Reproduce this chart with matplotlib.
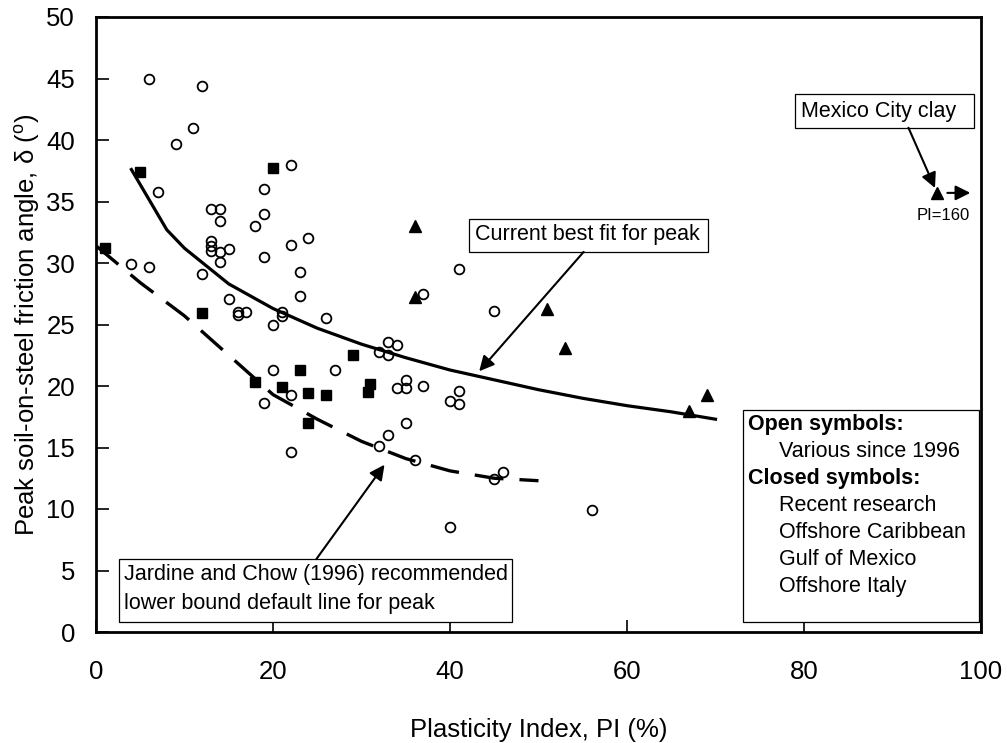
import matplotlib
matplotlib.use("Agg")
import matplotlib.pyplot as plt
from matplotlib.patches import Rectangle

plt.rcParams["font.family"] = ["Liberation Sans", "DejaVu Sans"]
plt.rcParams["mathtext.fontset"] = "custom"
plt.rcParams["mathtext.rm"] = "Liberation Sans"

# ---- data: PI (%) vs peak soil-on-steel friction angle (deg) ----
# open symbols: various since 1996
pi_open = [6, 12, 11, 9, 22, 7, 19, 13, 14, 14, 19, 18, 24, 22, 13, 13, 13, 14, 15,
           14, 19, 23, 4, 6, 12, 15, 16, 16, 17, 23, 21, 21, 20, 26, 20, 27, 22, 19,
           22, 37, 45, 33, 34, 32, 33, 35, 34, 35, 37, 41, 40, 41, 35, 33, 32, 36,
           46, 45, 41, 40, 56]
delta_open = [45.0, 44.4, 41.0, 39.7, 38.0, 35.8, 36.0, 34.4, 34.4, 33.4, 34.0, 33.0,
              32.0, 31.5, 31.8, 31.4, 31.0, 30.9, 31.1, 30.1, 30.5, 29.3, 29.9, 29.7,
              29.1, 27.1, 26.0, 25.8, 26.0, 27.3, 26.0, 25.7, 25.0, 25.5, 21.3, 21.3,
              19.3, 18.6, 14.6, 27.5, 26.1, 23.6, 23.3, 22.8, 22.5, 20.5, 19.8, 19.8,
              20.0, 19.6, 18.8, 18.5, 17.0, 16.0, 15.1, 14.0, 13.0, 12.4, 29.5, 8.5,
              9.9]

# closed squares: recent research
pi_sq = [1, 5, 20, 12, 18, 21, 23, 24, 26, 24, 29, 31, 30.7]
delta_sq = [31.2, 37.4, 37.7, 25.9, 20.3, 19.9, 21.3, 19.4, 19.3, 17.0, 22.5, 20.2, 19.5]

# closed triangles: offshore sites (Mexico City clay plotted at PI=95)
pi_tri = [36, 36, 51, 53, 69, 67, 95]
delta_tri = [33.0, 27.2, 26.3, 23.1, 19.3, 18.0, 35.7]

# current best fit for peak
pi_fit = [4, 8, 10, 15, 20, 25, 30, 35, 40, 45, 50, 55, 60, 65, 70]
delta_fit = [37.6, 32.7, 31.2, 28.3, 26.3, 24.7, 23.4, 22.3, 21.3, 20.5, 19.7,
             19.0, 18.4, 17.9, 17.3]

# Jardine and Chow (1996) lower bound
pi_jc = [0, 5, 10, 15, 20, 25, 30, 35, 40, 45, 50]
delta_jc = [31.4, 28.4, 25.7, 22.5, 19.3, 17.3, 15.5, 14.1, 13.1, 12.5, 12.3]

legend_lines = [("Open symbols:", True), ("Various since 1996", False),
                ("Closed symbols:", True), ("Recent research", False),
                ("Offshore Caribbean", False), ("Gulf of Mexico", False),
                ("Offshore Italy", False)]

fig = plt.figure(figsize=(10.07, 7.43), dpi=100)
ax = fig.add_axes([96 / 1007, 1 - 632 / 743, 885 / 1007, 615 / 743])

ax.plot(pi_open, delta_open, "o", ms=7, mfc="none", mec="black", mew=1.3, zorder=3)
ax.plot(pi_sq, delta_sq, "s", ms=7.5, color="black", zorder=3)
ax.plot(pi_tri, delta_tri, "^", ms=8.5, color="black", zorder=3)

ax.plot(pi_fit, delta_fit, color="black", lw=2.3, solid_joinstyle="round", zorder=4)
ax.plot(pi_jc, delta_jc, color="black", lw=2.4, dashes=(8.7, 4.8),
        dash_capstyle="butt", zorder=4)

ax.set_xlim(0, 100)
ax.set_ylim(0, 50)
ax.set_xticks(range(0, 101, 20))
ax.set_yticks(range(0, 51, 5))
ax.tick_params(axis="x", direction="in", length=9, width=1.2, labelsize=18.5, pad=20.5)
ax.tick_params(axis="y", direction="in", length=9, width=1.2, labelsize=18.5, pad=15)
for side in ax.spines.values():
    side.set_linewidth(2)

ax.set_xlabel("Plasticity Index, PI (%)", fontsize=18.5, labelpad=24)
ax.set_ylabel(r"Peak soil-on-steel friction angle, δ ($^{\mathrm{o}}$)",
              fontsize=18.5, labelpad=3)

arrow = dict(arrowstyle="-|>,head_length=0.6,head_width=0.3", color="black",
             lw=1.5, mutation_scale=15, shrinkA=0, shrinkB=0)


def note_box(x0, y0, x1, y1):
    ax.add_patch(Rectangle((x0, y0), x1 - x0, y1 - y0, fc="white", ec="black",
                           lw=0.9, zorder=5))


# best-fit annotation
note_box(42.2, 30.9, 69.2, 33.6)
ax.text(42.8, 32.3, "Current best fit for peak", fontsize=15.5, ha="left",
        va="center", zorder=6)
ax.annotate("", xy=(43.3, 21.2), xytext=(55.1, 30.9), arrowprops=arrow, zorder=5)

# Jardine and Chow annotation
note_box(2.6, 0.84, 47.0, 5.93)
ax.text(3.2, 3.5, "Jardine and Chow (1996) recommended\nlower bound default line for peak",
        fontsize=15.5, ha="left", va="center", linespacing=1.45, zorder=6)
ax.annotate("", xy=(32.6, 13.6), xytext=(24.9, 5.93), arrowprops=arrow, zorder=5)

# Mexico City clay
note_box(79.0, 41.0, 99.2, 43.7)
ax.text(79.7, 42.35, "Mexico City clay", fontsize=15.5, ha="left", va="center", zorder=6)
ax.annotate("", xy=(94.8, 36.1), xytext=(91.8, 41.0), arrowprops=arrow, zorder=5)
ax.annotate("", xy=(98.8, 35.7), xytext=(96.2, 35.7), arrowprops=arrow, zorder=5)
ax.text(95.7, 33.9, "PI=160", fontsize=12, ha="center", va="center")

# symbol key
note_box(73.1, 0.8, 99.8, 18.05)
y0, dy = 16.83, 2.19
for i, (txt, bold) in enumerate(legend_lines):
    ax.text(73.7 if bold else 77.2, y0 - i * dy, txt, fontsize=15.5,
            fontweight="bold" if bold else "normal", ha="left", va="center", zorder=6)

fig.savefig("out.png", dpi=100)
